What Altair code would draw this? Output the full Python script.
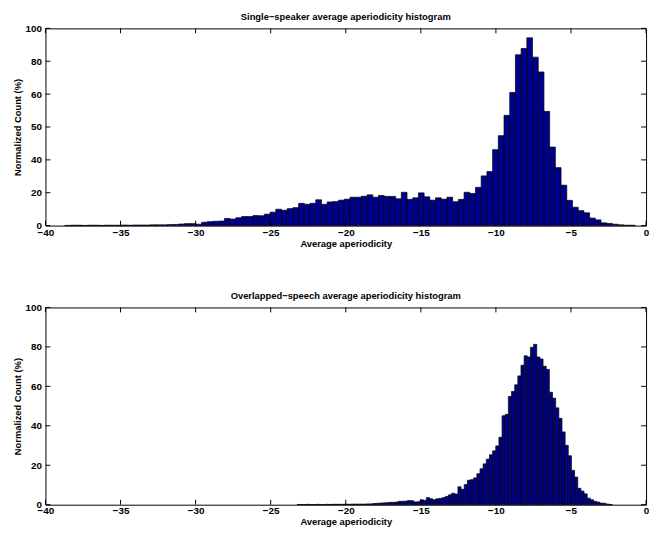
import json
import altair as alt
import pandas as pd

FONT = "Liberation Sans"
FILL = "#00008F"

x_ticks = [-40, -35, -30, -25, -20, -15, -10, -5, 0]

# ---- Single-speaker histogram (100 bins) ----
single_bin_start = -38.72
single_bin_width = 0.38
single_counts = [
    0.1, 0.2, 0.2, 0.1, 0.2, 0.2, 0.1, 0.2, 0.2, 0.2,
    0.3, 0.2, 0.3, 0.3, 0.3, 0.4, 0.4, 0.4, 0.5, 0.6,
    0.8, 1.0, 1.0, 0.7, 1.7, 2.0, 2.2, 2.3, 3.6, 3.3,
    4.0, 4.6, 4.6, 5.1, 5.0, 5.8, 6.8, 8.3, 7.8, 8.6,
    9.1, 11.3, 10.8, 11.3, 13.1, 10.8, 12.0, 12.2, 12.9, 13.4,
    14.4, 14.4, 14.9, 15.6, 14.4, 15.3, 14.8, 14.8, 13.6, 16.9,
    13.3, 14.1, 16.6, 14.6, 12.9, 14.1, 13.4, 14.4, 12.1, 13.3,
    16.9, 16.3, 19.4, 25.2, 27.4, 38.5, 45.6, 55.9, 67.5, 86.6,
    89.8, 95.2, 85.4, 77.9, 57.9, 39.8, 29.4, 20.5, 12.8, 9.3,
    7.6, 6.5, 3.8, 2.9, 1.4, 1.1, 0.7, 0.4, 0.2, 0.2,
]
single_y_ticks = [0, 100 / 6, 200 / 6, 50, 400 / 6, 500 / 6, 100]
single_y_labels = ["0", "20", "40", "50", "60", "80", "100"]

# ---- Overlapped-speech histogram (100 bins) ----
overlap_bin_start = -23.24
overlap_bin_width = 0.21
overlap_counts = [
    0.1, 0.1, 0.1, 0.2, 0.1, 0.1, 0.2, 0.1, 0.1, 0.2,
    0.1, 0.2, 0.2, 0.2, 0.2, 0.3, 0.2, 0.3, 0.3, 0.3,
    0.3, 0.3, 0.4, 0.4, 0.6, 0.7, 0.8, 0.9, 1.0, 1.2,
    1.2, 1.3, 1.7, 1.7, 1.8, 2.1, 2.0, 1.4, 1.5, 2.5,
    2.2, 3.6, 3.0, 2.5, 3.0, 3.2, 3.6, 4.2, 5.0, 5.8,
    5.4, 9.1, 7.8, 10.2, 12.4, 12.7, 13.6, 15.7, 18.2, 20.7,
    23.1, 25.3, 27.3, 29.8, 34.2, 45.1, 45.8, 54.9, 57.4, 60.8,
    65.3, 70.7, 75.5, 74.9, 79.8, 81.3, 74.9, 73.9, 70.2, 68.6,
    57.0, 54.0, 49.1, 43.8, 36.9, 30.1, 24.8, 17.4, 14.0, 8.3,
    6.9, 5.5, 3.3, 2.5, 1.7, 1.3, 0.8, 0.7, 0.3, 0.1,
]
overlap_y_ticks = [0, 20, 40, 60, 80, 100]
overlap_y_labels = ["0", "20", "40", "60", "80", "100"]

W = 609
H = 200
TICK = 5


def hist_frame(start, width, counts):
    n = len(counts)
    return pd.DataFrame({
        "x0": [start + width * i for i in range(n)],
        "x1": [start + width * (i + 1) for i in range(n)],
        "h": counts,
    })


def panel(title, start, width, counts, y_ticks, y_labels, xlab_pad, xtitle_pad):
    xscale = alt.Scale(domain=[-40, 0], nice=False, zero=False)
    yscale = alt.Scale(domain=[0, 100], nice=False)
    label_expr = json.dumps(y_labels) + "[round(datum.value * %d / 100)]" % (len(y_labels) - 1)
    xaxis = alt.Axis(values=x_ticks, title="Average aperiodicity",
                     labelPadding=xlab_pad, titlePadding=xtitle_pad)
    yaxis = alt.Axis(values=y_ticks, labelExpr=label_expr, title="Normalized Count (%)")

    df = hist_frame(start, width, counts)
    bars = alt.Chart(df).mark_rect(color=FILL, stroke="black", strokeWidth=0.7).encode(
        x=alt.X("x0:Q", scale=xscale, axis=xaxis),
        x2="x1:Q",
        y=alt.Y("h:Q", scale=yscale, axis=yaxis),
        y2=alt.datum(0),
    )
    xt = alt.Chart(pd.DataFrame({"x0": x_ticks}))
    yt = alt.Chart(pd.DataFrame({"h": y_ticks}))
    bottom_t = xt.mark_rule(color="black", strokeWidth=1).encode(
        x=alt.X("x0:Q", scale=xscale, axis=xaxis), y=alt.value(H), y2=alt.value(H - TICK))
    top_t = xt.mark_rule(color="black", strokeWidth=1).encode(
        x=alt.X("x0:Q", scale=xscale, axis=xaxis), y=alt.value(0), y2=alt.value(TICK))
    left_t = yt.mark_rule(color="black", strokeWidth=1).encode(
        y=alt.Y("h:Q", scale=yscale, axis=yaxis), x=alt.value(0), x2=alt.value(TICK))
    right_t = yt.mark_rule(color="black", strokeWidth=1).encode(
        y=alt.Y("h:Q", scale=yscale, axis=yaxis), x=alt.value(W - TICK), x2=alt.value(W))
    return alt.layer(bars, bottom_t, top_t, left_t, right_t).properties(
        width=W, height=H,
        title=alt.TitleParams(text=title, frame="group", anchor="middle"),
    )


top = panel("Single\u2212speaker average aperiodicity histogram",
            single_bin_start, single_bin_width, single_counts, single_y_ticks, single_y_labels,
            2, 1.5)
bottom = panel("Overlapped\u2212speech average aperiodicity histogram",
               overlap_bin_start, overlap_bin_width, overlap_counts, overlap_y_ticks, overlap_y_labels,
               1, 1)

chart = alt.vconcat(top, bottom, spacing=42).properties(
    padding={"left": 3, "top": 0, "right": 0, "bottom": 0}
).configure_view(
    stroke="black", strokeWidth=1
).configure_axis(
    labelFont=FONT, labelFontWeight="bold", labelFontSize=10, labelColor="black",
    titleFont=FONT, titleFontWeight="bold", titleFontSize=9.5, titleColor="black",
    ticks=False, tickSize=0, domain=False, grid=False,
).configure_axisX(
    labelFlush=False,
).configure_axisY(
    labelPadding=4, titlePadding=3,
).configure_title(
    font=FONT, fontSize=9.5, fontWeight="bold", color="black", offset=2,
)

chart.save("out.html", embed_options={"renderer": "svg", "actions": False})
